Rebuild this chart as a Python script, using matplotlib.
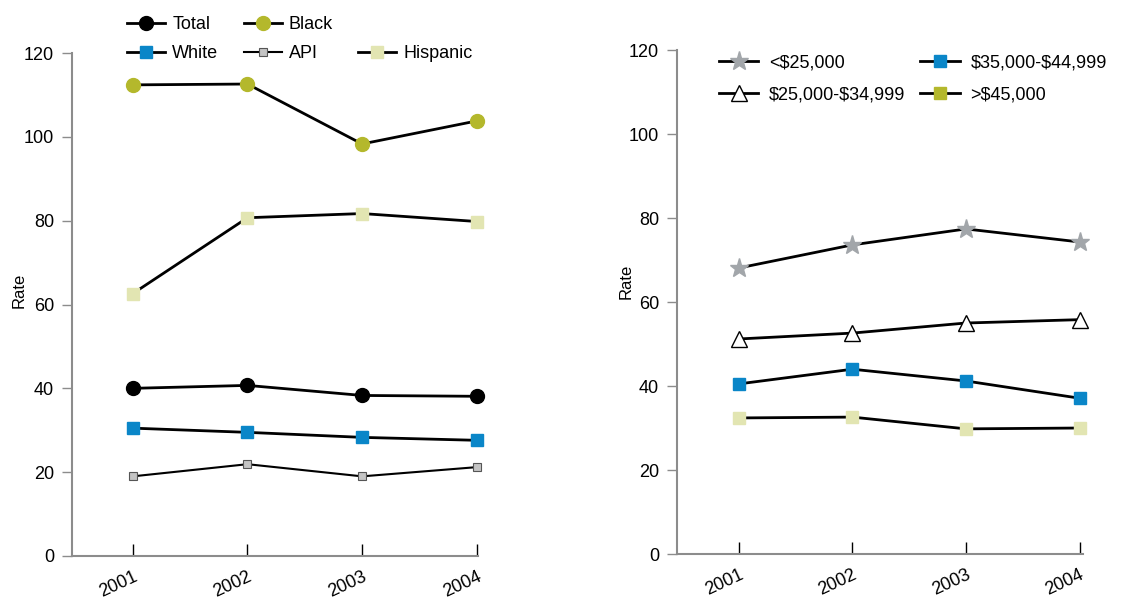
import matplotlib
matplotlib.use("Agg")
import matplotlib.pyplot as plt
from matplotlib.lines import Line2D

plt.rcParams['font.family'] = ['Liberation Sans', 'DejaVu Sans']

years = [2001, 2002, 2003, 2004]
year_labels = ["2001", "2002", "2003", "2004"]

# Left panel: race/ethnicity
total = [40.0, 40.7, 38.3, 38.1]
black = [112.4, 112.6, 98.3, 103.8]
white = [30.5, 29.5, 28.3, 27.6]
api = [19.0, 21.9, 19.0, 21.2]
hispanic = [62.6, 80.7, 81.7, 79.8]

# Right panel: income
inc_lt25 = [68.1, 73.6, 77.4, 74.3]
inc_25_35 = [51.2, 52.6, 55.0, 55.8]
inc_35_45 = [40.5, 44.0, 41.2, 37.1]
inc_gt45 = [32.4, 32.6, 29.8, 30.0]

left_labels = ['Total', 'White', 'Black', 'API', '', 'Hispanic']
right_labels = [r'<\$25,000', r'\$25,000-\$34,999', r'\$35,000-\$44,999', r'>\$45,000']

yticks = [0, 20, 40, 60, 80, 100, 120]

OLIVE = "#b4b82c"
BLUE = "#0a86c8"
PALE = "#e2e5b2"
GRAYM = "#c4c4c4"
STAR = "#a2a6aa"
SPINE = "#8c8c8c"
FS = 13

fig = plt.figure(figsize=(11.23, 5.99), dpi=100)
axL = fig.add_axes([0.0641, 0.0718, 0.3615, 0.8397])
axR = fig.add_axes([0.6028, 0.0751, 0.3615, 0.8414])


def style(ax, xlim, lx, ly):
    ax.set_xlim(*xlim)
    ax.set_ylim(0, 120)
    ax.set_yticks(yticks)
    ax.set_xticks(years)
    ax.set_xticklabels(year_labels, rotation=25, fontsize=FS)
    ax.tick_params(axis='y', direction='out', length=7, width=1, color=SPINE, labelsize=FS, pad=6)
    ax.tick_params(axis='x', direction='in', length=9, width=1, color='black', pad=9)
    for s in ['top', 'right']:
        ax.spines[s].set_visible(False)
    for s in ['left', 'bottom']:
        ax.spines[s].set_color(SPINE)
        ax.spines[s].set_linewidth(1.5)
    ax.set_ylabel("Rate", fontsize=12)
    ax.yaxis.set_label_coords(lx, ly)
    for lbl in ax.get_xticklabels():
        lbl.set_ha('right')
        lbl.set_rotation_mode('anchor')


lw = 2.0
hT, = axL.plot(years, total, '-', color='black', lw=lw, marker='o', ms=10, mfc='black', mec='black', clip_on=False)
hB, = axL.plot(years, black, '-', color='black', lw=lw, marker='o', ms=10, mfc=OLIVE, mec=OLIVE, clip_on=False)
hW, = axL.plot(years, white, '-', color='black', lw=lw, marker='s', ms=9, mfc=BLUE, mec=BLUE, clip_on=False)
hA, = axL.plot(years, api, '-', color='black', lw=1.5, marker='s', ms=5.5, mfc=GRAYM, mec='#555555', mew=0.8, clip_on=False)
hH, = axL.plot(years, hispanic, '-', color='black', lw=lw, marker='s', ms=9, mfc=PALE, mec=PALE, clip_on=False)
style(axL, (2000.47, 2004.01), -0.111, 0.529)

blank = Line2D([], [], color='none')
axL.legend([hT, hW, hB, hA, blank, hH], left_labels,
           ncol=3, frameon=False, fontsize=FS, handlelength=2.1, handletextpad=0.4,
           columnspacing=1.4, labelspacing=0.65, loc='upper left',
           bbox_to_anchor=(0.118, 1.087), borderaxespad=0)

h1, = axR.plot(years, inc_lt25, '-', color='black', lw=lw, marker='*', ms=14, mfc=STAR, mec=STAR, clip_on=False)
h2, = axR.plot(years, inc_25_35, '-', color='black', lw=lw, marker='^', ms=12, mfc='white', mec='black', mew=1.0, clip_on=False)
h3, = axR.plot(years, inc_35_45, '-', color='black', lw=lw, marker='s', ms=9, mfc=BLUE, mec=BLUE, clip_on=False)
h4, = axR.plot(years, inc_gt45, '-', color='black', lw=lw, marker='s', ms=9, mfc=PALE, mec=PALE, clip_on=False)
style(axR, (2000.456, 2004.03), -0.106, 0.54)

h4leg = Line2D([], [], color='black', lw=lw, marker='s', ms=9, mfc=OLIVE, mec=OLIVE)
axR.legend([h1, h2, h3, h4leg], right_labels,
           ncol=2, frameon=False, fontsize=FS, handlelength=2.2, handletextpad=0.6,
           columnspacing=0.8, labelspacing=0.8, loc='upper left',
           bbox_to_anchor=(0.085, 1.005), borderaxespad=0)

fig.savefig("out.png", dpi=100)
